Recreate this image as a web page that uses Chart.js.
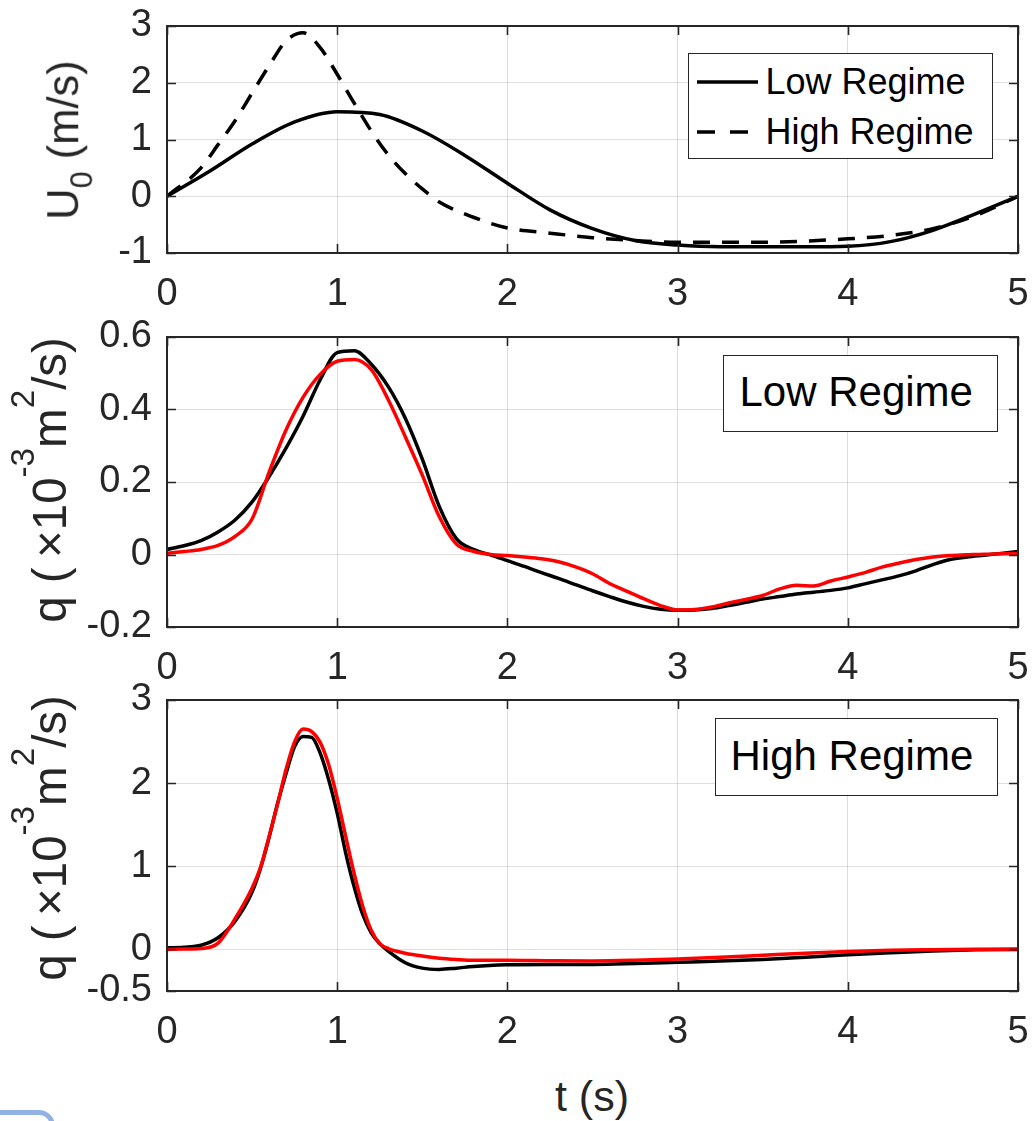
<!DOCTYPE html>
<html>
<head>
<meta charset="utf-8">
<title>U0 and q, low / high regime</title>
<script src="https://cdn.jsdelivr.net/npm/chart.js@4.4.1/dist/chart.umd.min.js"></script>
<style>
  html, body { margin: 0; padding: 0; background: #fff; }
  #page {
    position: relative; width: 1035px; height: 1121px; overflow: hidden;
    font-family: "Liberation Sans", Arial, sans-serif; color: #262626;
  }
  canvas { position: absolute; left: 0; }
  .ylab {
    position: absolute; white-space: nowrap; font-size: 43px; line-height: 1;
    transform: translate(-50%, -50%) rotate(-90deg);
  }
  .ylab sup { font-size: 0.7em; position: relative; top: -0.95em; vertical-align: baseline; line-height: 0; }
  .ylab sub { font-size: 0.7em; position: relative; top: 0.45em; vertical-align: baseline; line-height: 0; }
  .xlab { position: absolute; font-size: 43px; line-height: 1; white-space: nowrap; transform: translateX(-50%); }
  .legend { position: absolute; background: #fff; border: 1.5px solid #262626; box-sizing: border-box; }
  .legend span { position: absolute; line-height: 1; white-space: nowrap; color: #000; }
  .legend svg { position: absolute; }
  #blob {
    position: absolute; left: -20px; top: 1110px; width: 75px; height: 40px;
    border: 5px solid #93b2e4; border-radius: 16px; box-sizing: border-box; background: #fff;
  }
</style>
</head>
<body>
<div id="page">
  <canvas id="cU" width="1035" height="337" style="top:-14px"></canvas>
  <canvas id="cLow" width="1035" height="400" style="top:297px"></canvas>
  <canvas id="cHigh" width="1035" height="401" style="top:660px"></canvas>

  <div class="ylab" id="labU" style="left:64px; top:140px">U<sub>0</sub> (m/s)</div>
  <div class="ylab" id="labQ1" style="left:50px; top:480px">q (&thinsp;&times;10<sup>-3</sup>m<sup>2</sup>/s)</div>
  <div class="ylab" id="labQ2" style="left:50px; top:838px">q (&thinsp;&times;10<sup>-3</sup>m<sup>2</sup>/s)</div>
  <div class="xlab" style="left:592px; top:1075px">t (s)</div>

  <div class="legend" style="left:688px; top:53px; width:305px; height:106px">
    <svg style="left:7.5px; top:24.5px" width="61" height="6">
      <line x1="0" y1="3" x2="61" y2="3" stroke="#000" stroke-width="3.5"/>
    </svg>
    <svg style="left:7.5px; top:74.5px" width="61" height="6">
      <line x1="0" y1="3" x2="61" y2="3" stroke="#000" stroke-width="3.5" stroke-dasharray="18 15"/>
    </svg>
    <span style="left:76.5px; top:10px; font-size:36px">Low Regime</span>
    <span style="left:76.5px; top:60px; font-size:36px">High Regime</span>
  </div>
  <div class="legend" style="left:723px; top:355px; width:275px; height:77px">
    <span style="left:15.5px; top:15px; font-size:42px">Low Regime</span>
  </div>
  <div class="legend" style="left:715px; top:718px; width:283px; height:78px">
    <span style="left:14.5px; top:16px; font-size:42px">High Regime</span>
  </div>
  <div id="blob"></div>
</div>

<script>
// ---- top panel: U0 (m/s)
const tULow  = [0, 0.25, 0.5, 0.75, 1.0, 1.25, 1.5, 1.75, 2.0, 2.25, 2.5, 2.75, 3.0, 3.25, 3.5, 3.75, 4.0, 4.25, 4.5, 4.75, 5.0];
const uLow   = [0, 0.44, 0.92, 1.31, 1.49, 1.44, 1.15, 0.72, 0.23, -0.24, -0.57, -0.78, -0.86, -0.89, -0.89, -0.89, -0.88, -0.80, -0.60, -0.31, 0];
const tUHigh = [0, 0.2, 0.3, 0.4, 0.5, 0.6, 0.7, 0.8, 0.9, 1.0, 1.1, 1.2, 1.3, 1.4, 1.5, 1.6, 1.8, 2.0, 2.25, 2.5, 2.75, 3.0, 3.5, 4.0, 4.25, 4.5, 4.75, 5.0];
const uHigh  = [0, 0.50, 0.91, 1.33, 1.82, 2.30, 2.74, 2.88, 2.62, 2.15, 1.64, 1.15, 0.73, 0.40, 0.13, -0.10, -0.37, -0.56, -0.65, -0.73, -0.78, -0.81, -0.81, -0.75, -0.69, -0.57, -0.34, 0];

// ---- middle panel: q, low regime (black / red)
const tQLow = [0, 0.1, 0.2, 0.3, 0.4, 0.5, 0.6, 0.7, 0.8, 0.9,
               1.0, 1.1, 1.2, 1.3, 1.4, 1.5, 1.6, 1.7, 1.8, 1.9,
               2.0, 2.1, 2.2, 2.3, 2.4, 2.5, 2.6, 2.7, 2.8, 2.9,
               3.0, 3.1, 3.2, 3.3, 3.4, 3.5, 3.6, 3.7, 3.8, 3.9,
               4.0, 4.1, 4.2, 4.3, 4.4, 4.5, 4.6, 4.7, 4.8, 4.9, 5.0];
const qLowBlack = [0.014, 0.024, 0.038, 0.062, 0.095, 0.145, 0.215, 0.294, 0.382, 0.482,
                   0.557, 0.562, 0.525, 0.463, 0.376, 0.263, 0.132, 0.044, 0.014, -0.001,
                   -0.017, -0.033, -0.050, -0.066, -0.083, -0.100, -0.116, -0.131, -0.143, -0.151,
                   -0.154, -0.153, -0.149, -0.141, -0.132, -0.123, -0.116, -0.109, -0.104, -0.099,
                   -0.092, -0.081, -0.070, -0.059, -0.045, -0.028, -0.014, -0.007, -0.002, 0.003, 0.008];
const qLowRed   = [0.003, 0.008, 0.014, 0.025, 0.050, 0.098, 0.227, 0.344, 0.434, 0.497,
                   0.533, 0.538, 0.510, 0.427, 0.325, 0.219, 0.104, 0.029, 0.009, 0.000,
                   -0.003, -0.007, -0.012, -0.020, -0.034, -0.053, -0.080, -0.101, -0.122, -0.141,
                   -0.153, -0.152, -0.145, -0.134, -0.124, -0.113, -0.095, -0.085, -0.087, -0.073,
                   -0.062, -0.050, -0.035, -0.024, -0.014, -0.007, -0.003, -0.001, 0.001, 0.002, 0.003];

// ---- bottom panel: q, high regime (black / red)
const tQHigh = [0, 0.1, 0.2, 0.3, 0.4, 0.5, 0.55, 0.6, 0.65, 0.7, 0.75, 0.8, 0.85, 0.9, 0.95,
                1.0, 1.05, 1.1, 1.15, 1.2, 1.25, 1.3, 1.4, 1.5, 1.6, 1.7, 1.8,
                2.0, 2.25, 2.5, 2.75, 3.0, 3.25, 3.5, 3.75, 4.0, 4.25, 4.5, 4.75, 5.0];
const qHighBlack = [0.02, 0.026, 0.05, 0.14, 0.34, 0.69, 0.98, 1.35, 1.76, 2.12, 2.44, 2.56, 2.55, 2.36, 2.04,
                    1.64, 1.16, 0.75, 0.42, 0.20, 0.07, -0.02, -0.16, -0.225, -0.24, -0.225, -0.205,
                    -0.185, -0.18, -0.18, -0.17, -0.155, -0.14, -0.12, -0.095, -0.065, -0.04, -0.018, -0.005, 0];
const qHighRed   = [0, 0.004, 0.01, 0.076, 0.37, 0.74, 0.99, 1.36, 1.75, 2.17, 2.50, 2.65, 2.62, 2.49, 2.22,
                    1.82, 1.36, 0.91, 0.52, 0.23, 0.07, 0.01, -0.045, -0.08, -0.105, -0.12, -0.13,
                    -0.13, -0.135, -0.138, -0.13, -0.115, -0.095, -0.07, -0.045, -0.025, -0.01, -0.003, 0.002, 0.004];

// ---- ticks
const xTicks      = [0, 1, 2, 3, 4, 5];
const yTicksU     = [-1, 0, 1, 2, 3];
const yTicksQLow  = [-0.2, 0, 0.2, 0.4, 0.6];
const yTicksQHigh = [-0.5, 0, 1, 2, 3];


// ============================================================
// shared look
// ============================================================
const AXIS = '#262626';
const GRID = 'rgba(0,0,0,0.13)';
const PAD_TOP = 40;
const TICK_FONT = { family: '"Liberation Sans", Arial, sans-serif', size: 38 };

function pts(xs, ys) {
  return xs.map(function (x, i) { return { x: x, y: ys[i] }; });
}

function series(data, color, dash, order) {
  return {
    data: data,
    borderColor: color,
    borderWidth: 3.5,
    borderDash: dash || [],
    pointRadius: 0,
    cubicInterpolationMode: 'monotone',
    fill: false,
    order: order
  };
}

// box + inward ticks on all four sides, drawn over the data like MATLAB
const framePlugin = {
  id: 'frame',
  afterDatasetsDraw: function (chart) {
    const a = chart.chartArea, ctx = chart.ctx;
    const sx = chart.scales.x, sy = chart.scales.y;
    ctx.save();
    ctx.strokeStyle = AXIS;
    ctx.lineWidth = 1.6;
    ctx.beginPath();
    sx.ticks.forEach(function (t) {
      const px = Math.round(sx.getPixelForValue(t.value)) + 0.5;
      ctx.moveTo(px, a.bottom); ctx.lineTo(px, a.bottom - 9);
      ctx.moveTo(px, a.top);    ctx.lineTo(px, a.top + 9);
    });
    sy.ticks.forEach(function (t) {
      const py = Math.round(sy.getPixelForValue(t.value)) + 0.5;
      ctx.moveTo(a.left, py);  ctx.lineTo(a.left + 9, py);
      ctx.moveTo(a.right, py); ctx.lineTo(a.right - 9, py);
    });
    ctx.stroke();
    ctx.lineWidth = 2;
    ctx.strokeRect(a.left, a.top, a.right - a.left, a.bottom - a.top);
    ctx.restore();
  }
};

function makePanel(id, plotH, datasets, yMin, yMax, yTicks) {
  const canvas = document.getElementById(id);
  const canvasH = canvas.height;
  return new Chart(canvas, {
    type: 'line',
    data: { datasets: datasets },
    options: {
      responsive: false,
      animation: false,
      devicePixelRatio: 1,
      layout: { padding: { top: PAD_TOP, right: 17, bottom: 0, left: 0 } },
      plugins: { legend: { display: false }, tooltip: { enabled: false } },
      scales: {
        x: {
          type: 'linear', min: 0, max: 5,
          afterBuildTicks: function (s) { s.ticks = xTicks.map(function (v) { return { value: v }; }); },
          afterFit: function (s) {
            s.height = canvasH - PAD_TOP - plotH;
            s.paddingLeft = 0; s.paddingRight = 0;
          },
          grid: { color: GRID, lineWidth: 1, drawTicks: false },
          border: { display: false },
          ticks: { font: TICK_FONT, color: AXIS, padding: 19, maxRotation: 0, autoSkip: false,
                   callback: function (v) { return String(v); } }
        },
        y: {
          type: 'linear', min: yMin, max: yMax,
          afterBuildTicks: function (s) { s.ticks = yTicks.map(function (v) { return { value: v }; }); },
          afterFit: function (s) {
            s.width = 167;
            s.paddingTop = 0; s.paddingBottom = 0;
          },
          grid: { color: GRID, lineWidth: 1, drawTicks: false },
          border: { display: false },
          ticks: { font: TICK_FONT, color: AXIS, padding: 15, autoSkip: false,
                   callback: function (v) { return String(v); } }
        }
      }
    },
    plugins: [framePlugin]
  });
}

makePanel('cU', 227, [
  series(pts(tUHigh, uHigh), '#000000', [17, 12], 0),
  series(pts(tULow, uLow), '#000000', null, 1)
], -1, 3, yTicksU);

makePanel('cLow', 290, [
  series(pts(tQLow, qLowRed), '#ff0000', null, 0),
  series(pts(tQLow, qLowBlack), '#000000', null, 1)
], -0.2, 0.6, yTicksQLow);

makePanel('cHigh', 291, [
  series(pts(tQHigh, qHighRed), '#ff0000', null, 0),
  series(pts(tQHigh, qHighBlack), '#000000', null, 1)
], -0.5, 3, yTicksQHigh);

// stretch the rotated axis titles to the length they have in the figure
function fitLength(id, target) {
  const el = document.getElementById(id);
  const fs = parseFloat(getComputedStyle(el).fontSize);
  el.style.fontSize = (fs * target / el.offsetWidth) + 'px';
}
fitLength('labU', 160);
fitLength('labQ1', 286);
fitLength('labQ2', 286);
</script>
</body>
</html>
